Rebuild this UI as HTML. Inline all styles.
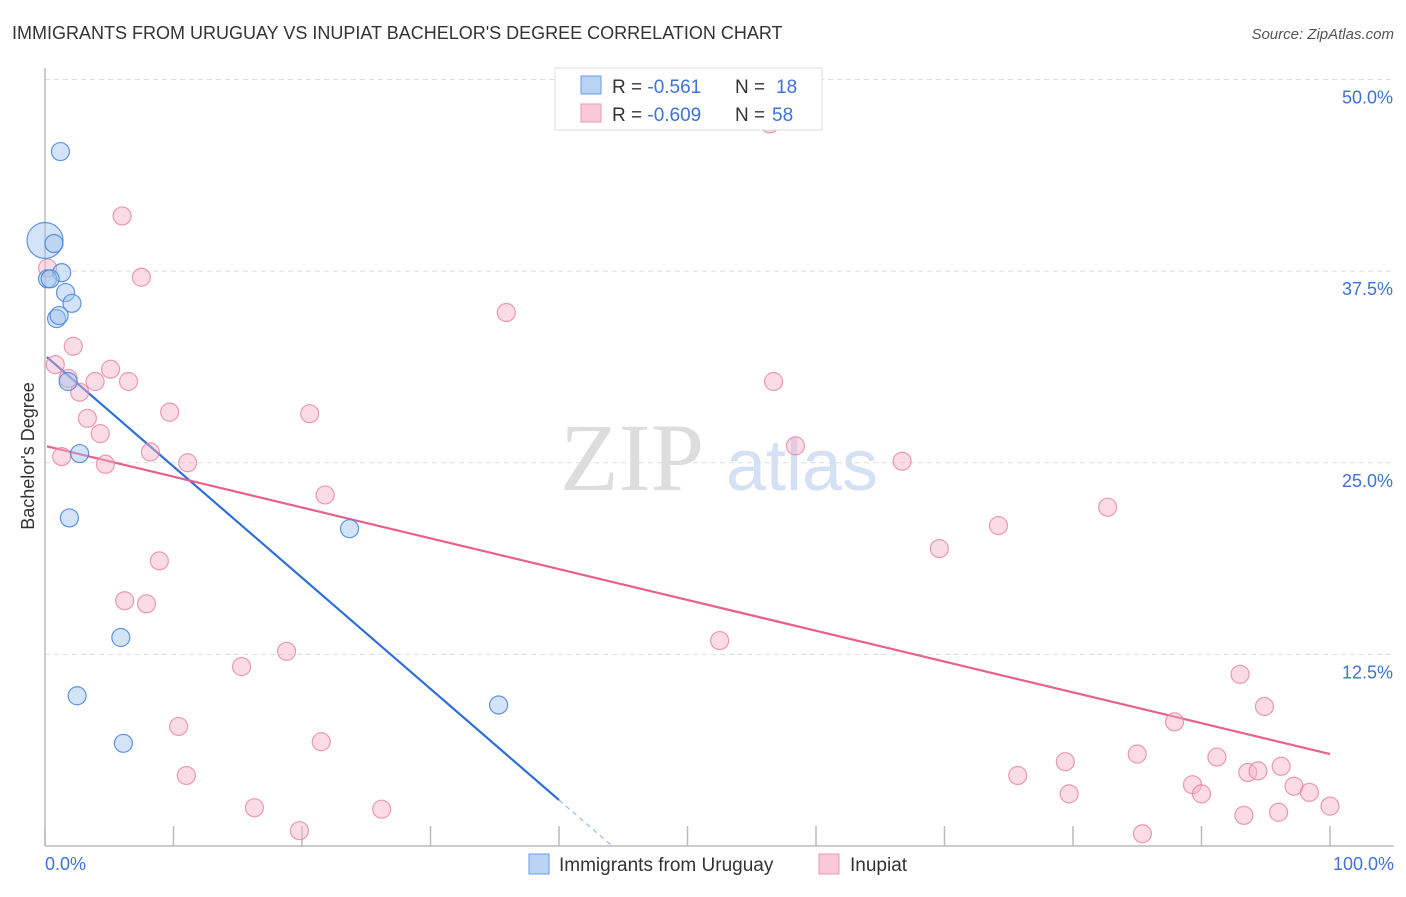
<!DOCTYPE html>
<html><head><meta charset="utf-8"><style>
body{margin:0;background:#fff;font-family:"Liberation Sans",sans-serif}
svg text{font-family:"Liberation Sans",sans-serif}
</style></head><body>
<svg id="chart" width="1406" height="892" xmlns="http://www.w3.org/2000/svg">
<text x="12" y="39" font-size="18" fill="#333">IMMIGRANTS FROM URUGUAY VS INUPIAT BACHELOR'S DEGREE CORRELATION CHART</text>
<text x="1394" y="39" font-size="15" fill="#555" font-style="italic" text-anchor="end">Source: ZipAtlas.com</text>
<g>
<text x="632" y="490" font-size="96" fill="#ddd" text-anchor="middle" font-family="Liberation Serif" style="font-family:'Liberation Serif'">ZIP</text>
<text x="802" y="490" font-size="72" fill="#d4e0f3" text-anchor="middle">atlas</text>
</g>
<g id="grid"></g>
<g id="axes"></g>
<g id="lines"></g>
<g id="points"></g>
<text transform="translate(34,456) rotate(-90)" font-size="18" fill="#333" text-anchor="middle">Bachelor's Degree</text>
<text x="45" y="870" font-size="18" fill="#3d72d6">0.0%</text>
<text x="1394" y="870" font-size="18" fill="#3d72d6" text-anchor="end">100.0%</text>
<g>
<rect x="555" y="68" width="267" height="62" fill="#fff" stroke="#ddd"/>
<rect x="581" y="76" width="20" height="18" fill="#b9d3f5" stroke="#6b9be0"/>
<rect x="581" y="104" width="20" height="18" fill="#f9c9d7" stroke="#e99ab3"/>
<text x="612" y="93" font-size="19" fill="#333">R = <tspan fill="#3d72d6"> -0.561</tspan><tspan x="735">N = </tspan><tspan fill="#3d72d6" x="776">18</tspan></text>
<text x="612" y="121" font-size="19" fill="#333">R = <tspan fill="#3d72d6">-0.609</tspan><tspan x="735">N = </tspan><tspan fill="#3d72d6" x="772">58</tspan></text>
</g>
<g>
<rect x="529" y="854" width="20" height="20" fill="#b9d3f5" stroke="#6b9be0"/>
<text x="559" y="871" font-size="19" fill="#333">Immigrants from Uruguay</text>
<rect x="819" y="854" width="20" height="20" fill="#f9c9d7" stroke="#e99ab3"/>
<text x="850" y="871" font-size="19" fill="#333">Inupiat</text>
</g>
</svg>
<script>
const yTicks=[12.5,25,37.5,50];
const yTickLabels=["12.5%","25.0%","37.5%","50.0%"];
const xTicks=[0,10,20,30,40,50,60,70,80,90,100];
const blueX=[1.2,0,0.7,1.3,0.2,0.4,1.6,2.1,0.9,1.1,1.8,2.7,1.9,23.7,5.9,2.5,35.3,6.1];
const blueY=[45.3,39.5,39.3,37.4,37.0,37.0,36.1,35.4,34.4,34.6,30.3,25.6,21.4,20.7,13.6,9.8,9.2,6.7];
const pinkX=[56.4,6.0,7.5,0.2,35.9,2.2,0.8,5.1,1.8,3.9,6.5,56.7,2.7,3.3,9.7,20.6,4.3,58.4,8.2,1.3,4.7,11.1,66.7,21.8,82.7,74.2,69.6,8.9,6.2,7.9,52.5,18.8,15.3,93.0,94.9,87.9,10.4,21.5,85.0,91.2,79.4,96.2,93.6,94.4,75.7,11.0,89.3,90.0,97.2,79.7,98.4,16.3,26.2,100,93.3,96.0,19.8,85.4];
const pinkY=[47.1,41.1,37.1,37.7,34.8,32.6,31.4,31.1,30.5,30.3,30.3,30.3,29.6,27.9,28.3,28.2,26.9,26.1,25.7,25.4,24.9,25.0,25.1,22.9,22.1,20.9,19.4,18.6,16.0,15.8,13.4,12.7,11.7,11.2,9.1,8.1,7.8,6.8,6.0,5.8,5.5,5.2,4.8,4.9,4.6,4.6,4.0,3.4,3.9,3.4,3.5,2.5,2.4,2.6,2.0,2.2,1.0,0.8];
const blueTrend=[0.15,32.0,-0.725];
const pinkTrend=[0.15,26.1,-0.201];
const NS="http://www.w3.org/2000/svg";
const X=v=>45+v*12.85, Y=v=>846-v*15.33;
function mk(t,a,p){const e=document.createElementNS(NS,t);for(const k in a)e.setAttribute(k,a[k]);p.appendChild(e);return e;}
const grid=document.getElementById('grid'),axes=document.getElementById('axes'),lines=document.getElementById('lines'),pts=document.getElementById('points');
yTicks.forEach((t,i)=>{
 const l=mk('line',{x1:45,x2:1394,y1:Y(t),y2:Y(t),stroke:'#ddd','stroke-dasharray':'5,4'},grid);
 
 
 const tx=mk('text',{x:1393,y:Y(t)+24,'font-size':18,fill:'#3d72d6','text-anchor':'end'},grid);
 tx.textContent=yTickLabels[i];
 
 
});
const ax=mk('line',{x1:45,x2:1394,y1:846,y2:846,stroke:'#bbb','stroke-width':1.5},axes);


const ay=mk('line',{x1:45,x2:45,y1:68,y2:846,stroke:'#bbb','stroke-width':1.5},axes);


xTicks.forEach(t=>{
 const l=mk('line',{x1:X(t),x2:X(t),y1:826,y2:846,stroke:'#bbb','stroke-width':1.5},axes);
 
 
});
function pt(x,y,r,fill,stroke,name){
 const c=mk('circle',{cx:X(x),cy:Y(y),r:r,fill:fill,stroke:stroke,'stroke-width':1.2},pts);
 
 
}
pinkX.forEach((x,i)=>pt(x,pinkY[i],9,'rgba(246,178,200,0.45)','rgba(230,130,165,0.8)','inupiat-point'));
blueX.forEach((x,i)=>pt(x,blueY[i],i===1?18:9,'rgba(160,195,240,0.45)','rgba(70,130,220,0.85)','uruguay-point'));
function trend(tr,xEnd,color,name){
 const [x0,b,m]=tr;
 const l=mk('line',{x1:X(x0),y1:Y(b+m*x0),x2:X(xEnd),y2:Y(b+m*xEnd),stroke:color,'stroke-width':2.2},lines);
 
 
}
trend(blueTrend,40,'#2f6fd8','uruguay-trend-line');
const bx=-blueTrend[1]/blueTrend[2];
const d=mk('line',{x1:X(40),y1:Y(blueTrend[1]+blueTrend[2]*40),x2:X(bx),y2:Y(0),stroke:'#9bb8e8','stroke-width':1.2,'stroke-dasharray':'5,4'},lines);


trend(pinkTrend,100,'#e8608e','inupiat-trend-line');
</script>
</body></html>
